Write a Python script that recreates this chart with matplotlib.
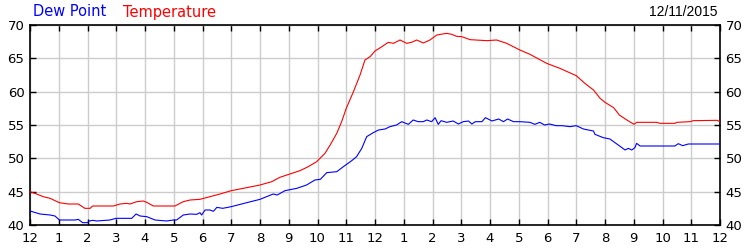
import matplotlib
matplotlib.use("Agg")
import matplotlib.pyplot as plt

temp_hours = [0, 0.23, 0.46, 0.7, 1.02, 1.33, 1.68, 1.91, 2.09, 2.18, 2.9, 3.13, 3.36, 3.48, 3.71, 3.94,
              4.06, 4.29, 5.04, 5.33, 5.57, 5.91, 6.26, 6.61, 7.0, 7.42, 8.0, 8.41, 8.69, 9.04, 9.39,
              9.68, 9.97, 10.26, 10.44, 10.67, 10.84, 11.0, 11.25, 11.48, 11.65, 11.83, 12.0, 12.24,
              12.46, 12.64, 12.87, 13.1, 13.27, 13.45, 13.68, 13.91, 14.15, 14.49, 14.67, 14.84, 15.02,
              15.31, 15.89, 16.23, 16.58, 17.04, 17.39, 17.97, 18.43, 19.0, 19.3, 19.6, 19.83, 20.0,
              20.3, 20.5, 20.76, 21.01, 21.1, 21.8, 21.91, 22.43, 22.5, 22.96, 23.07, 23.9, 24.0]
temp_values = [45.0, 44.65, 44.25, 44.0, 43.35, 43.15, 43.15, 42.5, 42.5, 42.85, 42.85, 43.15, 43.25,
               43.15, 43.5, 43.6, 43.4, 42.85, 42.85, 43.5, 43.75, 43.85, 44.25, 44.65, 45.15, 45.5,
               46.0, 46.5, 47.15, 47.65, 48.15, 48.75, 49.5, 50.75, 52.0, 53.75, 55.5, 57.5, 60.0,
               62.5, 64.75, 65.25, 66.1, 66.75, 67.4, 67.25, 67.75, 67.25, 67.4, 67.75, 67.3, 67.75,
               68.5, 68.75, 68.6, 68.3, 68.25, 67.8, 67.65, 67.75, 67.25, 66.25, 65.6, 64.25, 63.5,
               62.4, 61.25, 60.25, 59.0, 58.4, 57.6, 56.5, 55.75, 55.1, 55.4, 55.4, 55.25, 55.25,
               55.4, 55.5, 55.65, 55.7, 55.5]

dew_hours = [0, 0.35, 0.7, 0.87, 1.02, 1.57, 1.68, 1.83, 2.0, 2.06, 2.18, 2.32, 2.78, 2.99, 3.54, 3.69,
             3.83, 4.06, 4.35, 4.75, 4.99, 5.1, 5.33, 5.57, 5.8, 5.91, 5.97, 6.09, 6.26, 6.38, 6.5,
             6.7, 7.0, 7.54, 8.0, 8.46, 8.6, 8.87, 9.28, 9.62, 9.91, 10.1, 10.32, 10.67, 10.9, 11.19,
             11.36, 11.54, 11.71, 11.94, 12.12, 12.35, 12.52, 12.75, 12.93, 13.16, 13.33, 13.5, 13.68,
             13.8, 13.97, 14.09, 14.2, 14.3, 14.49, 14.72, 14.9, 15.07, 15.25, 15.37, 15.49, 15.72,
             15.84, 16.07, 16.3, 16.47, 16.61, 16.82, 17.04, 17.39, 17.56, 17.73, 17.9, 18.07, 18.3,
             18.5, 18.78, 19.0, 19.25, 19.6, 19.65, 19.94, 20.17, 20.46, 20.7, 20.81, 20.93, 21.04,
             21.1, 21.22, 22.43, 22.55, 22.7, 22.9, 24.0]
dew_values = [42.1, 41.65, 41.5, 41.35, 40.75, 40.75, 40.85, 40.35, 40.35, 40.6, 40.7, 40.6, 40.75,
              41.0, 41.0, 41.65, 41.35, 41.25, 40.75, 40.6, 40.75, 40.75, 41.5, 41.65, 41.6, 41.85,
              41.5, 42.25, 42.25, 42.05, 42.65, 42.5, 42.75, 43.35, 43.85, 44.65, 44.5, 45.15, 45.5,
              46.0, 46.75, 46.85, 47.85, 48.0, 48.75, 49.65, 50.25, 51.5, 53.25, 53.85, 54.25, 54.4,
              54.75, 55.0, 55.5, 55.1, 55.75, 55.5, 55.5, 55.75, 55.5, 56.1, 55.1, 55.65, 55.4, 55.6,
              55.15, 55.5, 55.6, 55.15, 55.5, 55.5, 56.1, 55.6, 55.9, 55.5, 55.9, 55.5, 55.5, 55.4,
              55.1, 55.4, 55.0, 55.15, 54.9, 54.9, 54.75, 54.9, 54.4, 54.1, 53.6, 53.1, 52.9, 52.0,
              51.25, 51.5, 51.25, 51.6, 52.25, 51.85, 51.85, 52.2, 51.9, 52.15, 52.15]

x_ticks = list(range(0, 25))
x_labels = ["12", "1", "2", "3", "4", "5", "6", "7", "8", "9", "10", "11",
            "12", "1", "2", "3", "4", "5", "6", "7", "8", "9", "10", "11", "12"]
y_ticks = [40, 45, 50, 55, 60, 65, 70]
date_label = "12/11/2015"

plt.rcParams['font.family'] = ['DejaVu Sans']

fig = plt.figure(figsize=(7.5, 2.5), dpi=100)
ax = fig.add_axes([0.04, 0.1, 0.92, 0.8])

ax.plot(temp_hours, temp_values, color="#ff0000", lw=0.8, zorder=3)
ax.plot(dew_hours, dew_values, color="#0000ff", lw=0.8, zorder=3)

ax.set_xlim(0, 24)
ax.set_ylim(40, 70)
ax.set_xticks(x_ticks)
ax.set_xticklabels(x_labels)
ax.set_yticks(y_ticks)
ax.grid(True, color="#cccccc", lw=1.0, zorder=0)
ax.set_axisbelow(True)

for s in ax.spines.values():
    s.set_linewidth(1.2)
    s.set_color("black")

ax.tick_params(axis="both", direction="in", length=4, width=1.0, labelsize=9.5,
               top=True, right=True, labelright=True)
ax.tick_params(axis="x", pad=5)
ax.tick_params(axis="y", which="both", pad=4)
for lab in ax.get_yticklabels():
    pass
ax.yaxis.set_tick_params(which="major", pad=4)

fig.text(0.044, 0.952, "Dew Point", color="#0000ff", fontsize=10.5, va="center", ha="left")
fig.text(0.164, 0.952, "Temperature", color="#ff0000", fontsize=10.5, va="center", ha="left")
fig.text(0.957, 0.952, date_label, color="black", fontsize=10, va="center", ha="right",
         family="Liberation Sans")

fig.savefig("out.png", dpi=100)
